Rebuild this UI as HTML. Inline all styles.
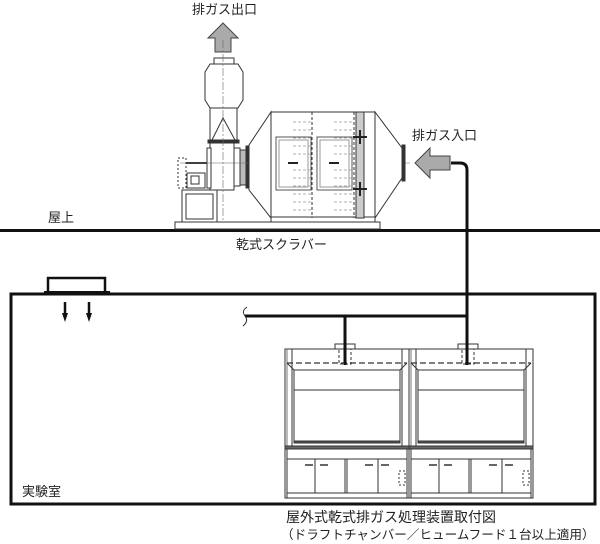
<!DOCTYPE html>
<html><head><meta charset="utf-8"><style>
html,body{margin:0;padding:0;background:#fff}
svg{display:block}
text{font-family:"Liberation Sans","Noto Sans CJK JP",sans-serif;font-size:13px;fill:#222}
</style></head><body>
<svg width="600" height="544" viewBox="0 0 600 544" xmlns="http://www.w3.org/2000/svg">
<defs>
<g id="hood" fill="none" stroke="#333" stroke-width="1">
  <rect x="0" y="0" width="124" height="149" fill="#fff"/>
  <line x1="7" y1="0" x2="7" y2="97"/><line x1="117" y1="0" x2="117" y2="97"/>
  <line x1="2" y1="0" x2="2" y2="145" stroke="#777"/>
  <line x1="2" y1="14" x2="122" y2="14" stroke-dasharray="6,3" stroke-width="1.3"/>
  <polyline points="2,14 9,21 115,21 122,14"/>
  <rect x="9" y="21" width="106" height="73"/>
  <line x1="9" y1="41" x2="115" y2="41"/>
  <rect x="9" y="92" width="106" height="2" fill="#555"/>
  <rect x="0" y="97" width="124" height="3" fill="#666"/>
  <rect x="2" y="100" width="120" height="10"/>
  <rect x="2" y="110" width="120" height="34"/>
  <line x1="30" y1="110" x2="30" y2="144"/><line x1="60" y1="110" x2="60" y2="144"/><line x1="62" y1="110" x2="62" y2="144"/><line x1="93" y1="110" x2="93" y2="144"/>
  <line x1="20" y1="116" x2="28" y2="116" stroke-width="1.5"/><line x1="35" y1="116" x2="43" y2="116" stroke-width="1.5"/>
  <line x1="80" y1="116" x2="88" y2="116" stroke-width="1.5"/><line x1="96" y1="116" x2="104" y2="116" stroke-width="1.5"/>
  <rect x="114" y="122" width="6" height="14" stroke-dasharray="2,2"/>
  <rect x="2" y="144" width="120" height="5"/>
</g>
</defs>

<rect x="0" y="229" width="600" height="3" fill="#111"/>
<text x="48" y="222">屋上</text>
<text x="236" y="249">乾式スクラバー</text>

<text x="192" y="14">排ガス出口</text>
<polygon points="223,23 238,38 231,38 231,52 215,52 215,38 208,38" fill="#aaa" stroke="#444"/>

<g fill="#fff" stroke="#333" stroke-width="1">
  <rect x="214" y="58" width="20" height="6"/>
  <polygon points="210,64 238,64 243,72 243,100 238,108 210,108 205,100 205,72"/>
  <rect x="210" y="108" width="27" height="32"/>
  <polyline points="212,140 223,118 235,140" fill="none"/>
  <rect x="208" y="140" width="31" height="3" fill="#333"/>
  <rect x="210" y="143" width="24" height="47"/>
  <rect x="207" y="148" width="4" height="40"/>
  <rect x="234" y="148" width="6" height="38"/>
  <rect x="240" y="150" width="6" height="35" fill="#bbb"/>
  <rect x="246" y="146" width="3" height="42" fill="#333"/>
  <rect x="178" y="158" width="8" height="30" stroke-dasharray="2,2"/>
  <line x1="186" y1="163" x2="207" y2="163" stroke-width="2"/>
  <rect x="187" y="173" width="18" height="15"/>
  <rect x="191" y="176" width="8" height="8"/>
  <rect x="182" y="190" width="35" height="32"/>
  <rect x="186" y="194" width="27" height="25"/>
  <rect x="175" y="222" width="205" height="7"/>
</g>
<line x1="223" y1="40" x2="223" y2="222" stroke="#666" stroke-width="0.6" stroke-dasharray="8,2,2,2"/>
<line x1="180" y1="163" x2="410" y2="163" stroke="#666" stroke-width="0.6"/>

<g fill="#fff" stroke="#333" stroke-width="1">
  <polygon points="249,145 271,112 271,218 249,190"/>
  <rect x="271" y="112" width="104" height="106"/>
  <polygon points="375,112 402,148 402,178 375,218"/>
  <rect x="402" y="145" width="3" height="36" fill="#333"/>
  <rect x="271" y="217" width="104" height="5"/>
  <rect x="276" y="137" width="35" height="53" stroke="#555"/>
  <rect x="279" y="140" width="29" height="47" stroke="#999"/>
  <rect x="317" y="137" width="35" height="53" stroke="#555"/>
  <rect x="320" y="140" width="29" height="47" stroke="#999"/>
  <rect x="356" y="112" width="8" height="106" fill="#ccc"/>
</g>
<line x1="312" y1="112" x2="312" y2="218" stroke="#333" stroke-dasharray="3,2"/>
<line x1="354" y1="112" x2="354" y2="218" stroke="#333" stroke-dasharray="3,2"/>
<g stroke="#999" stroke-width="0.8" stroke-dasharray="3,2">
  <path d="M293 122h18M293 130h18M293 138h18M293 146h18M293 154h18M293 170h18M293 178h18M293 186h18M293 194h18M293 202h18M293 210h18"/>
  <path d="M334 122h18M334 130h18M334 138h18M334 146h18M334 154h18M334 170h18M334 178h18M334 186h18M334 194h18M334 202h18M334 210h18"/>
</g>
<path d="M288 163h10M329 163h10" stroke="#222" stroke-width="2"/>
<path d="M360 130v14M353 137h14M360 182v14M353 189h14" stroke="#222" stroke-width="2"/>

<text x="412" y="140">排ガス入口</text>
<polygon points="415,163 430,148 430,156 450,156 450,170 430,170 430,178" fill="#aaa" stroke="#444"/>
<path d="M451 163 H460 Q467 163 467 170 V345" fill="none" stroke="#111" stroke-width="3"/>

<rect x="11" y="294" width="584" height="210" fill="none" stroke="#111" stroke-width="3"/>
<rect x="48" y="278" width="57" height="16" fill="#fff" stroke="#111" stroke-width="2.5"/>
<rect x="44" y="291" width="66" height="4" fill="#111"/>
<path d="M65 302v14M89 302v14" stroke="#111" stroke-width="2.5"/>
<polygon points="62,313 68,313 65,322" fill="#111"/><polygon points="86,313 92,313 89,322" fill="#111"/>
<text x="22" y="496">実験室</text>

<path d="M245 316 H467" stroke="#111" stroke-width="3"/>
<path d="M247 307 q-6 4 -2 9 q4 5 -2 10" fill="none" stroke="#333"/>
<path d="M345 316 V365" stroke="#111" stroke-width="3"/>

<use href="#hood" x="285" y="349"/>
<use href="#hood" x="409" y="349"/>
<g fill="none" stroke="#333">
  <rect x="335" y="344" width="20" height="5" fill="#fff"/>
  <rect x="339" y="349" width="12" height="15" stroke-dasharray="3,2"/>
  <rect x="458" y="344" width="20" height="5" fill="#fff"/>
  <rect x="462" y="349" width="12" height="15" stroke-dasharray="3,2"/>
</g>
<path d="M345 340V365M467 340V365" stroke="#111" stroke-width="3"/>

<text x="286" y="522" style="font-size:14px">屋外式乾式排ガス処理装置取付図</text>
<text x="281" y="539" style="font-size:12.6px">（ドラフトチャンバー／ヒュームフード１台以上適用）</text>
</svg>
</body></html>
